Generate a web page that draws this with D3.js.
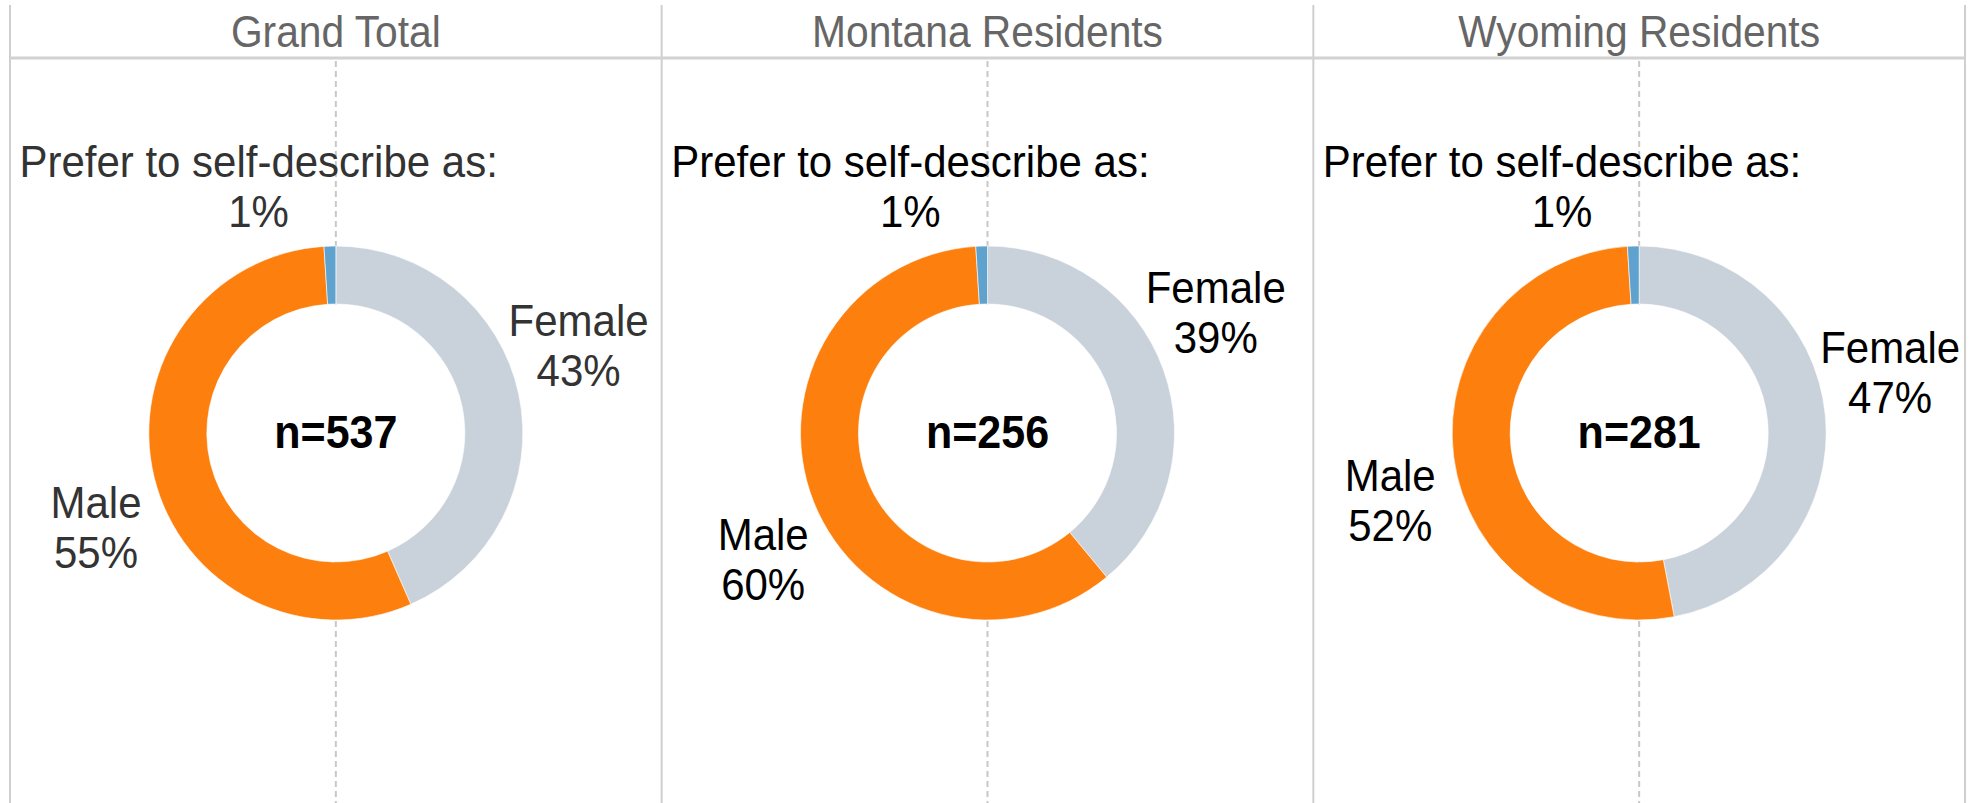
<!DOCTYPE html>
<html>
<head>
<meta charset="utf-8">
<script src="https://cdn.jsdelivr.net/npm/d3@7"></script>
<style>
  html, body { margin: 0; padding: 0; background: #ffffff; }
  svg { display: block; font-family: "Liberation Sans", Arial, sans-serif; }
</style>
</head>
<body>
<script>
// ---- Data ----
const panels = ["Grand Total", "Montana Residents", "Wyoming Residents"];
const categories = ["Female", "Male", "Prefer to self-describe as:"];
const femalePct = [43, 39, 47];
const malePct = [55, 60, 52];
const selfDescribePct = [1, 1, 1];
const sampleSizes = [537, 256, 281];

// ---- Layout / style ----
const W = 1978, H = 803;
const left = 10, right = 1965;
const topY = 5, headerY = 58;
const cy = 433, outerR = 187, innerR = 129, labelR = 258;
const stretchY = 1.07;
const colors = d3.scaleOrdinal().domain(categories).range(["#c9d2db", "#fd7f0e", "#5fa2ce"]);
const labelAngleNudge = { "Female": -8, "Male": -8, "Prefer to self-describe as:": -15.6 };
const panelTextColor = d3.scaleOrdinal().domain(panels).range(["#333333", "#000000", "#000000"]);

const svg = d3.select("body").append("svg").attr("width", W).attr("height", H);
const x = d3.scaleBand().domain(panels).range([left, right]);
const bw = x.bandwidth();

// panel borders
const borderXs = panels.map(p => x(p)).concat([right]);
svg.selectAll("line.vborder").data(borderXs).enter().append("line")
  .attr("class", "vborder")
  .attr("x1", d => d).attr("x2", d => d)
  .attr("y1", topY).attr("y2", H)
  .attr("stroke", "#cfcfcf").attr("stroke-width", 2);

// per-panel dashed center lines (behind donuts)
svg.selectAll("line.center").data(panels).enter().append("line")
  .attr("class", "center")
  .attr("x1", p => x(p) + bw / 2).attr("x2", p => x(p) + bw / 2)
  .attr("y1", headerY + 3).attr("y2", H)
  .attr("stroke", "#c8c8c8").attr("stroke-width", 2)
  .attr("stroke-dasharray", "6,4");

// header line
svg.append("line")
  .attr("x1", left).attr("x2", right)
  .attr("y1", headerY).attr("y2", headerY)
  .attr("stroke", "#d2d2d2").attr("stroke-width", 3);

// titles
svg.selectAll("g.title").data(panels).enter().append("g")
  .attr("class", "title")
  .attr("transform", p => `translate(${x(p) + bw / 2},47)`)
  .append("text")
  .attr("transform", `scale(0.97,${stretchY})`)
  .attr("text-anchor", "middle")
  .attr("font-size", 42)
  .attr("fill", "#666666")
  .text(p => p);

const pie = d3.pie().sort(null).value(d => d.value);
const arc = d3.arc().innerRadius(innerR).outerRadius(outerR);

panels.forEach((p, i) => {
  const cx = x(p) + bw / 2;
  const g = svg.append("g").attr("transform", `translate(${cx},${cy})`);
  const series = [femalePct, malePct, selfDescribePct];
  const data = categories.map((c, j) => ({ cat: c, value: series[j][i] }));
  const arcs = pie(data);

  g.selectAll("path").data(arcs).enter().append("path")
    .attr("d", arc)
    .attr("fill", d => colors(d.data.cat))
    .attr("stroke", "#ffffff")
    .attr("stroke-width", 0.6);

  // donut hole covers dashed line
  g.append("circle").attr("r", innerR - 0.5).attr("fill", "#ffffff");

  g.append("g").attr("transform", "translate(0,15)")
    .append("text")
    .attr("transform", `scale(1,${stretchY})`)
    .attr("text-anchor", "middle")
    .attr("font-size", 43)
    .attr("font-weight", "bold")
    .attr("fill", "#000000")
    .text("n=" + sampleSizes[i]);

  // slice labels
  arcs.forEach(a => {
    const mid = (a.startAngle + a.endAngle) / 2 + labelAngleNudge[a.data.cat] * Math.PI / 180;
    const ax = Math.sin(mid) * labelR;
    const ay = -Math.cos(mid) * labelR;
    const lg = g.append("g").attr("transform", `translate(${ax},${ay})`);
    const t = lg.append("text")
      .attr("transform", `scale(1,${stretchY})`)
      .attr("text-anchor", "middle")
      .attr("font-size", 42)
      .attr("fill", panelTextColor(p));
    t.append("tspan").attr("x", 0).attr("y", -10 / stretchY).text(a.data.cat);
    t.append("tspan").attr("x", 0).attr("y", 40 / stretchY).text(a.data.value + "%");
  });
});
</script>
</body>
</html>
